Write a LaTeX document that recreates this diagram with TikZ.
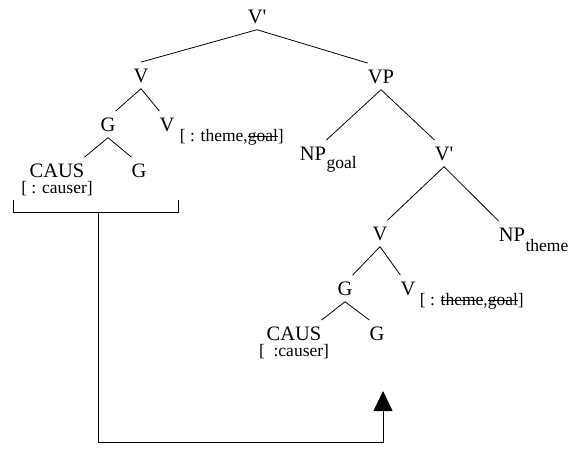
\documentclass[tikz,border=0pt]{standalone}
\usepackage{fontspec}
\setmainfont{Liberation Serif}
\usetikzlibrary{arrows.meta}

\newcommand{\featsize}{\fontsize{17.5}{19}\selectfont}
\newlength{\strikewd}
\newcommand{\struck}[1]{\settowidth{\strikewd}{#1}\rlap{\rule[0.24em]{\strikewd}{0.06em}}#1}

\begin{document}
\begin{tikzpicture}[x=1pt, y=-1pt,
  cat/.style={anchor=base, inner xsep=0pt, inner ysep=6.5pt,
    text height=13.2pt, text depth=0pt, font=\fontsize{20.5}{24}\selectfont},
  feat/.style={anchor=base west, inner sep=0pt, font=\featsize},
  branch/.style={line width=0.8pt}]
  \useasboundingbox (0,0) rectangle (569,453);
  % Upper tree: V' over V and VP
  \node[cat] (top) at (257,23) {V\textquotesingle};
  \node[cat] (v1) at (141,82) {V};
  \node[cat] (vp) at (381,83) {VP};
  \node[cat] (g1) at (108,131) {G};
  \node[cat] (v1b) at (167,131) {V};
  \node[feat] (v1b-f) at ([xshift=5pt,yshift=-10pt]v1b.base east) {[ : theme,\struck{goal}]};
  \node[cat] (caus1) at (57,177) {CAUS};
  \node[feat, anchor=base] (caus1-f) at ([yshift=-16.5pt]caus1.base) {[ : causer]};
  \node[cat] (g1b) at (139,177) {G};
  % VP shell
  \node[cat] (npg) at (313,160) {NP};
  \node[feat] (npg-f) at ([yshift=-8pt]npg.base east) {goal};
  \node[cat] (vbar) at (444,160) {V\textquotesingle};
  \node[cat] (v2) at (380,240) {V};
  \node[cat] (npt) at (512,241) {NP};
  \node[feat] (npt-f) at ([yshift=-10pt]npt.base east) {theme};
  \node[cat] (g2) at (345,295) {G};
  \node[cat] (v2b) at (408,295) {V};
  \node[feat] (v2b-f) at ([xshift=4pt,yshift=-10pt]v2b.base east) {[ : \struck{theme},\struck{goal}]};
  \node[cat] (caus2) at (294,340) {CAUS};
  \node[feat, anchor=base] (caus2-f) at ([yshift=-16.5pt]caus2.base) {[\ \ :causer]};
  \node[cat] (g2b) at (377,340) {G};
  % Branches
  \draw[branch] (top.south) -- (v1.north);
  \draw[branch] (top.south) -- (vp.north west);
  \draw[branch] (v1.south) -- (g1.north east);
  \draw[branch] (v1.south) -- (v1b.north west);
  \draw[branch] (g1.south) -- (caus1.north east);
  \draw[branch] (g1.south) -- (g1b.north west);
  \draw[branch] (vp.south) -- (npg.north east);
  \draw[branch] (vp.south) -- (vbar.north west);
  \draw[branch] (vbar.south) -- (v2.north east);
  \draw[branch] (vbar.south) -- (npt.north west);
  \draw[branch] (v2.south) -- (g2.north east);
  \draw[branch] (v2.south) -- (v2b.north west);
  \draw[branch] (g2.south) -- (caus2.north east);
  \draw[branch] (g2.south) -- (g2b.north west);
  % Bracket under the first CAUS and the movement arrow
  \coordinate (brl) at (13,212);
  \coordinate (brr) at (178,212);
  \coordinate (brm) at (98,212);
  \coordinate (low) at (98,442);
  \coordinate (tip) at (383,391);
  \draw[branch] ([yshift=12pt]brl) -- (brl) -- (brr) -- ([yshift=12pt]brr);
  \draw[branch, -{Triangle[length=20pt,width=19pt]}] (brm) -- (low) -| (tip);
\end{tikzpicture}
\end{document}
